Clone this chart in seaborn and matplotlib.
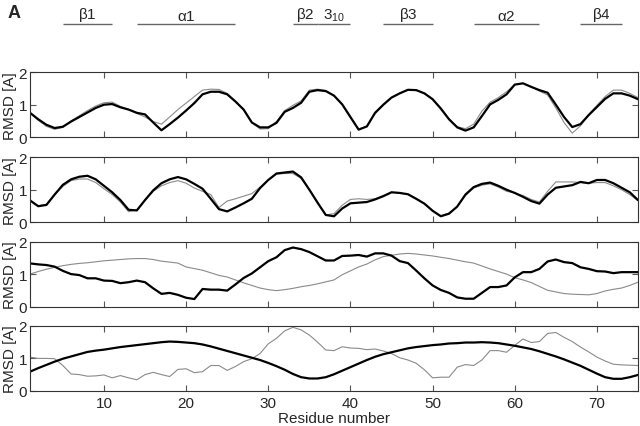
import numpy as np
import pandas as pd
import matplotlib
matplotlib.use("Agg")
import matplotlib.pyplot as plt
import seaborn as sns

# residue index 1..75
residues = list(range(1, 76))

# panel 1
p1_black = [0.75, 0.55, 0.38, 0.28, 0.32, 0.48, 0.62, 0.76, 0.90, 1.00,
            1.02, 0.92, 0.85, 0.75, 0.70, 0.45, 0.21, 0.40, 0.60, 0.82,
            1.05, 1.32, 1.40, 1.40, 1.32, 1.10, 0.85, 0.45, 0.30, 0.30,
            0.44, 0.78, 0.90, 1.06, 1.40, 1.45, 1.42, 1.28, 1.01, 0.62,
            0.23, 0.33, 0.75, 1.00, 1.22, 1.35, 1.46, 1.45, 1.35, 1.17,
            0.88, 0.55, 0.30, 0.20, 0.30, 0.65, 1.01, 1.15, 1.32, 1.62,
            1.66, 1.55, 1.45, 1.37, 1.00, 0.62, 0.31, 0.40, 0.68, 0.93,
            1.18, 1.35, 1.35, 1.28, 1.17]
p1_gray = [0.75, 0.52, 0.33, 0.24, 0.30, 0.50, 0.66, 0.82, 0.96, 1.06,
           1.08, 0.95, 0.85, 0.73, 0.62, 0.48, 0.40, 0.62, 0.85, 1.05,
           1.25, 1.45, 1.48, 1.47, 1.35, 1.10, 0.85, 0.45, 0.25, 0.26,
           0.48, 0.82, 0.98, 1.12, 1.45, 1.48, 1.44, 1.28, 1.00, 0.60,
           0.25, 0.32, 0.72, 0.98, 1.22, 1.36, 1.46, 1.45, 1.35, 1.17,
           0.90, 0.56, 0.32, 0.26, 0.40, 0.80, 1.08, 1.22, 1.40, 1.62,
           1.66, 1.56, 1.42, 1.30, 0.90, 0.45, 0.12, 0.35, 0.70, 0.98,
           1.25, 1.45, 1.45, 1.35, 1.22]

# panel 2
p2_black = [0.67, 0.49, 0.53, 0.85, 1.15, 1.32, 1.40, 1.43, 1.32, 1.12,
            0.92, 0.68, 0.38, 0.36, 0.68, 0.98, 1.20, 1.32, 1.39, 1.32,
            1.18, 1.03, 0.72, 0.40, 0.33, 0.45, 0.58, 0.72, 1.05, 1.30,
            1.50, 1.53, 1.56, 1.38, 1.00, 0.60, 0.22, 0.18, 0.42, 0.58,
            0.60, 0.62, 0.70, 0.80, 0.92, 0.90, 0.86, 0.72, 0.57, 0.35,
            0.18, 0.26, 0.48, 0.85, 1.08, 1.18, 1.22, 1.12, 1.00, 0.90,
            0.78, 0.65, 0.57, 0.85, 1.06, 1.10, 1.14, 1.24, 1.20, 1.30,
            1.30, 1.20, 1.06, 0.92, 0.68]
p2_gray = [0.67, 0.50, 0.55, 0.85, 1.10, 1.28, 1.33, 1.33, 1.22, 1.03,
           0.85, 0.62, 0.32, 0.38, 0.68, 0.95, 1.12, 1.22, 1.28, 1.20,
           1.05, 0.95, 0.85, 0.45, 0.65, 0.72, 0.80, 0.88, 1.08, 1.30,
           1.48, 1.50, 1.50, 1.35, 1.00, 0.60, 0.22, 0.26, 0.52, 0.70,
           0.72, 0.70, 0.72, 0.82, 0.92, 0.90, 0.85, 0.72, 0.57, 0.35,
           0.20, 0.28, 0.48, 0.82, 1.05, 1.14, 1.18, 1.08, 0.95, 0.90,
           0.82, 0.70, 0.62, 0.95, 1.24, 1.24, 1.24, 1.22, 1.20, 1.22,
           1.22, 1.12, 1.00, 0.85, 0.66]

# panel 3
p3_black = [1.33, 1.30, 1.28, 1.23, 1.10, 1.00, 0.97, 0.87, 0.87, 0.80,
            0.79, 0.72, 0.75, 0.80, 0.75, 0.56, 0.39, 0.42, 0.36, 0.27,
            0.23, 0.54, 0.52, 0.52, 0.49, 0.68, 0.88, 1.02, 1.21, 1.40,
            1.52, 1.74, 1.82, 1.77, 1.68, 1.55, 1.42, 1.42, 1.56, 1.57,
            1.59, 1.54, 1.64, 1.64, 1.57, 1.40, 1.34, 1.11, 0.87, 0.65,
            0.51, 0.42, 0.28, 0.24, 0.24, 0.42, 0.60, 0.60, 0.65, 0.90,
            1.06, 1.06, 1.16, 1.39, 1.45, 1.37, 1.34, 1.21, 1.16, 1.09,
            1.08, 1.03, 1.06, 1.06, 1.06]
p3_gray = [1.00, 1.08, 1.15, 1.21, 1.26, 1.30, 1.33, 1.35, 1.38, 1.41,
           1.43, 1.45, 1.47, 1.48, 1.48, 1.45, 1.40, 1.37, 1.34, 1.22,
           1.17, 1.12, 1.04, 0.96, 0.91, 0.82, 0.73, 0.65, 0.57, 0.52,
           0.49, 0.52, 0.56, 0.61, 0.65, 0.70, 0.76, 0.82, 0.98, 1.10,
           1.22, 1.31, 1.44, 1.54, 1.58, 1.62, 1.64, 1.62, 1.59, 1.56,
           1.52, 1.48, 1.43, 1.38, 1.34, 1.25, 1.16, 1.08, 1.00, 0.89,
           0.82, 0.74, 0.62, 0.50, 0.45, 0.40, 0.38, 0.37, 0.36, 0.40,
           0.48, 0.53, 0.57, 0.65, 0.75]

# panel 4
p4_black = [0.59, 0.70, 0.80, 0.90, 0.99, 1.06, 1.13, 1.20, 1.24, 1.27,
            1.31, 1.35, 1.38, 1.41, 1.44, 1.47, 1.50, 1.52, 1.51, 1.49,
            1.47, 1.43, 1.37, 1.30, 1.23, 1.16, 1.09, 1.02, 0.95, 0.86,
            0.76, 0.65, 0.52, 0.42, 0.38, 0.38, 0.42, 0.51, 0.62, 0.73,
            0.84, 0.95, 1.05, 1.13, 1.19, 1.25, 1.31, 1.35, 1.38, 1.41,
            1.43, 1.46, 1.47, 1.49, 1.49, 1.50, 1.49, 1.47, 1.43, 1.39,
            1.34, 1.29, 1.22, 1.14, 1.06, 0.97, 0.87, 0.77, 0.65, 0.53,
            0.42, 0.37, 0.37, 0.42, 0.49]
p4_gray = [1.04, 1.00, 1.00, 0.99, 0.78, 0.52, 0.50, 0.45, 0.46, 0.49,
           0.40, 0.47, 0.40, 0.34, 0.50, 0.57, 0.50, 0.44, 0.66, 0.68,
           0.56, 0.59, 0.78, 0.78, 0.63, 0.75, 0.90, 0.99, 1.15, 1.45,
           1.62, 1.85, 1.96, 1.88, 1.72, 1.50, 1.26, 1.24, 1.36, 1.32,
           1.31, 1.27, 1.29, 1.23, 1.15, 1.02, 0.95, 0.85, 0.65, 0.40,
           0.42, 0.42, 0.73, 0.81, 0.78, 0.95, 1.24, 1.24, 1.19, 1.40,
           1.60, 1.49, 1.52, 1.77, 1.80, 1.65, 1.52, 1.35, 1.20, 1.04,
           0.92, 0.82, 0.80, 0.79, 0.78]

# secondary structure elements
ss_labels = [r'$\beta$1', r'$\alpha$1', r'$\beta$2', r'$3_{10}$', r'$\beta$3', r'$\alpha$2', r'$\beta$4']
ss_start = [5, 14, 33, 36, 44, 55, 68]
ss_end = [11, 26, 36, 40, 50, 63, 73]

panels = [(p1_black, p1_gray), (p2_black, p2_gray), (p3_black, p3_gray), (p4_black, p4_gray)]

sns.set_style('ticks')
plt.rcParams['font.family'] = ['Liberation Sans', 'DejaVu Sans']
plt.rcParams['mathtext.fontset'] = 'custom'
plt.rcParams['mathtext.rm'] = 'Liberation Sans'
plt.rcParams['mathtext.it'] = 'Liberation Sans'

FS = 11
W, H = 640, 427
fig = plt.figure(figsize=(6.4, 4.27), dpi=100)

left = 30 / W
width = 608 / W
tops = [73.3, 158.3, 242.7, 327.0]
ph = 64.8

for i, (blk, gry) in enumerate(panels):
    ax = fig.add_axes([left, 1 - (tops[i] + ph) / H, width, ph / H])
    df = pd.DataFrame({'res': residues, 'black': blk, 'gray': gry})
    sns.lineplot(data=df, x='res', y='gray', color='#8a8a8a', lw=0.8, ax=ax)
    sns.lineplot(data=df, x='res', y='black', color='black', lw=1.6, ax=ax)
    ax.set_xlim(1, 75)
    ax.set_ylim(0, 2)
    ax.set_yticks([0, 1, 2])
    ax.set_xticks([10, 20, 30, 40, 50, 60, 70])
    ax.tick_params(direction='in', top=True, right=True, length=4.5, width=0.8,
                   color='#555555', labelsize=FS, pad=2)
    for s in ax.spines.values():
        s.set_color('#333333')
        s.set_linewidth(0.8)
    ax.set_ylabel('RMSD [A]', fontsize=FS, labelpad=1)
    if i < 3:
        ax.set_xticklabels([])
        ax.set_xlabel('')
    else:
        ax.tick_params(axis='x', pad=4)
        ax.set_xlabel('Residue number', fontsize=FS, labelpad=0.5)

# secondary structure header
hx = fig.add_axes([left, 1 - 40 / H, width, 40 / H])
hx.set_xlim(1, 75)
hx.set_ylim(0, 40)
hx.axis('off')
hx.hlines([40 - 25.3] * len(ss_start), ss_start, ss_end, color='#666666', lw=1.0)
for lab, s, e in zip(ss_labels, ss_start, ss_end):
    hx.text((s + e) / 2, 40 - 24, lab, ha='center', va='bottom', fontsize=FS)

fig.text(8 / W, 1 - 13 / H, 'A', fontsize=13, fontweight='bold', ha='left', va='center')

fig.savefig('out.png', dpi=100)
plt.close(fig)
